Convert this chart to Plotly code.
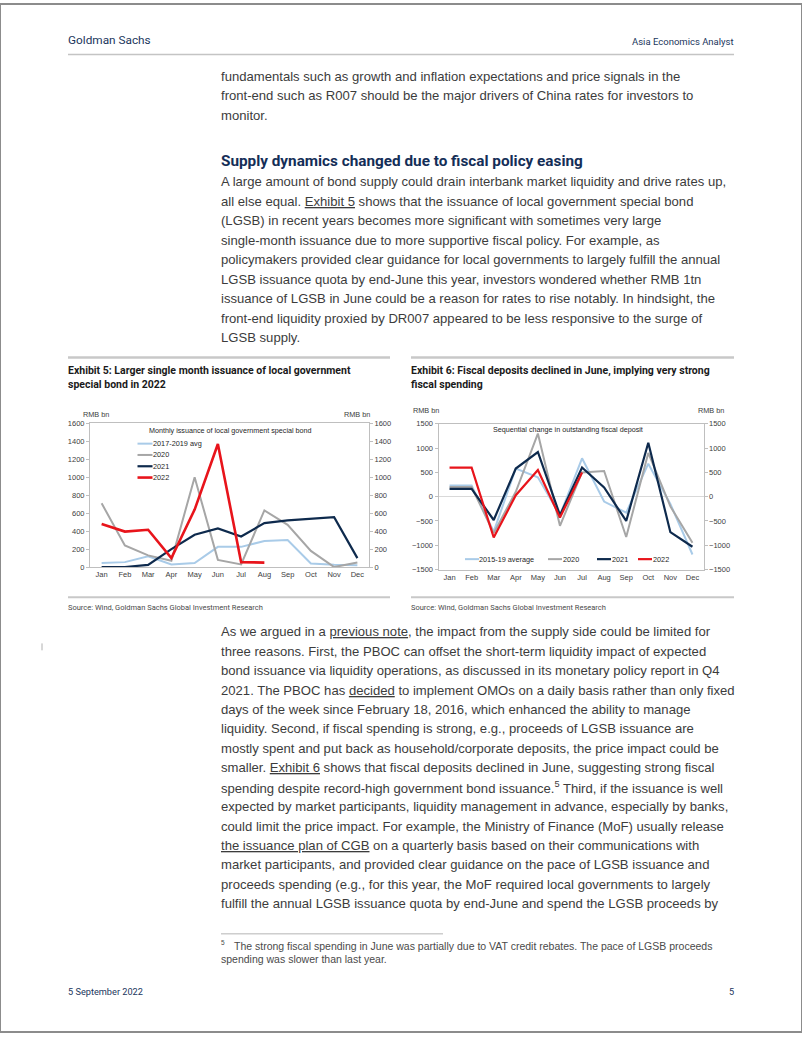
import plotly.graph_objects as go

W, H = 802, 1037

# ---------------- data ----------------
months = ["Jan", "Feb", "Mar", "Apr", "May", "Jun", "Jul", "Aug", "Sep", "Oct", "Nov", "Dec"]

ex5_names = ["2017-2019 avg", "2020", "2021", "2022"]
ex5_avg = [45, 55, 120, 30, 45, 225, 225, 290, 300, 40, 25, 20]
ex5_2020 = [710, 240, 130, 70, 1000, 80, 30, 630, 470, 180, 0, 50]
ex5_2021 = [0, 0, 25, 200, 360, 430, 340, 490, 520, 535, 555, 100]
ex5_2022 = [480, 395, 415, 100, 640, 1370, 55, 50]

ex6_names = ["2015-19 average", "2020", "2021", "2022"]
ex6_avg = [230, 230, -720, 580, 400, -380, 790, -100, -330, 680, -150, -1190]
ex6_2020 = [200, 200, -750, 100, 1300, -600, 500, 530, -830, 900, -200, -950]
ex6_2021 = [160, 160, -480, 580, 920, -380, 600, 190, -500, 1110, -730, -1030]
ex6_2022 = [600, 600, -840, 30, 550, -430, 500]

ex5_ticks = [0, 200, 400, 600, 800, 1000, 1200, 1400, 1600]
ex6_ticks = [-1500, -1000, -500, 0, 500, 1000, 1500]

colors = ["#a9cbe8", "#a6a6a6", "#0e2a4d", "#e8141b"]
widths5 = [2, 2, 2.2, 2.6]
widths6 = [2, 2, 2.2, 2.2]

# ---------------- text ----------------
top_lines = [
    "fundamentals such as growth and inflation expectations and price signals in the",
    "front-end such as R007 should be the major drivers of China rates for investors to",
    "monitor.",
]
heading = "Supply dynamics changed due to fiscal policy easing"
para1 = [
    "A large amount of bond supply could drain interbank market liquidity and drive rates up,",
    "all else equal. <u>Exhibit 5</u> shows that the issuance of local government special bond",
    "(LGSB) in recent years becomes more significant with sometimes very large",
    "single-month issuance due to more supportive fiscal policy. For example, as",
    "policymakers provided clear guidance for local governments to largely fulfill the annual",
    "LGSB issuance quota by end-June this year, investors wondered whether RMB 1tn",
    "issuance of LGSB in June could be a reason for rates to rise notably. In hindsight, the",
    "front-end liquidity proxied by DR007 appeared to be less responsive to the surge of",
    "LGSB supply.",
]
ex5_title = ["Exhibit 5: Larger single month issuance of local government", "special bond in 2022"]
ex6_title = ["Exhibit 6: Fiscal deposits declined in June, implying very strong", "fiscal spending"]
ex5_chart_title = "Monthly issuance of local government special bond"
ex6_chart_title = "Sequential change in outstanding fiscal deposit"
source = "Source: Wind, Goldman Sachs Global Investment Research"
para2 = [
    "As we argued in a <u>previous note</u>, the impact from the supply side could be limited for",
    "three reasons. First, the PBOC can offset the short-term liquidity impact of expected",
    "bond issuance via liquidity operations, as discussed in its monetary policy report in Q4",
    "2021. The PBOC has <u>decided</u> to implement OMOs on a daily basis rather than only fixed",
    "days of the week since February 18, 2016, which enhanced the ability to manage",
    "liquidity. Second, if fiscal spending is strong, e.g., proceeds of LGSB issuance are",
    "mostly spent and put back as household/corporate deposits, the price impact could be",
    "smaller. <u>Exhibit 6</u> shows that fiscal deposits declined in June, suggesting strong fiscal",
    "spending despite record-high government bond issuance.<sup>5</sup> Third, if the issuance is well",
    "expected by market participants, liquidity management in advance, especially by banks,",
    "could limit the price impact. For example, the Ministry of Finance (MoF) usually release",
    "<u>the issuance plan of CGB</u> on a quarterly basis based on their communications with",
    "market participants, and provided clear guidance on the pace of LGSB issuance and",
    "proceeds spending (e.g., for this year, the MoF required local governments to largely",
    "fulfill the annual LGSB issuance quota by end-June and spend the LGSB proceeds by",
]
footnote_mark = "5"
footnote = [
    "The strong fiscal spending in June was partially due to VAT credit rebates. The pace of LGSB proceeds",
    "spending was slower than last year.",
]

# ---------------- helpers ----------------
def X(px):
    return px / W

def Y(py):
    return 1 - py / H

BODY = "Liberation Sans, Arial, sans-serif"
COND = "Roboto, sans-serif"
CHART = "Liberation Sans, Arial, sans-serif"
NAVY = "#1b365d"

annotations = []
shapes = []

def txt(x, y, s, size, color="#3c3c3c", family=BODY, anchor="left"):
    annotations.append(dict(
        x=X(x), y=Y(y), xref="paper", yref="paper", text=s, showarrow=False,
        xanchor=anchor, yanchor="middle", align=anchor,
        font=dict(size=size, color=color, family=family), borderpad=0,
    ))

def hline(x0, x1, y, color, width):
    shapes.append(dict(type="line", xref="paper", yref="paper",
                       x0=X(x0), x1=X(x1), y0=Y(y), y1=Y(y),
                       line=dict(color=color, width=width)))

# ---------------- figure ----------------
fig = go.Figure()

for name, vals, c, w in zip(ex5_names, [ex5_avg, ex5_2020, ex5_2021, ex5_2022], colors, widths5):
    fig.add_trace(go.Scatter(x=months[:len(vals)], y=vals, mode="lines", name=name,
                             line=dict(color=c, width=w), xaxis="x", yaxis="y",
                             showlegend=False, hoverinfo="skip"))
for name, vals, c, w in zip(ex6_names, [ex6_avg, ex6_2020, ex6_2021, ex6_2022], colors, widths6):
    fig.add_trace(go.Scatter(x=months[:len(vals)], y=vals, mode="lines", name=name,
                             line=dict(color=c, width=w), xaxis="x2", yaxis="y2",
                             showlegend=False, hoverinfo="skip"))
# invisible traces to carry the right-hand axes
fig.add_trace(go.Scatter(x=months, y=[None] * 12, xaxis="x", yaxis="y3", showlegend=False, hoverinfo="skip"))
fig.add_trace(go.Scatter(x=months, y=[None] * 12, xaxis="x2", yaxis="y4", showlegend=False, hoverinfo="skip"))

AX = "#bfbfbf"
tickfont = dict(size=7.5, color="#404040", family=CHART)

common_x = dict(type="category", categoryorder="array", categoryarray=months,
                range=[-0.5, 11.5], showline=True, linecolor=AX, linewidth=1, mirror=True,
                showgrid=False, zeroline=False, ticks="", tickfont=tickfont, fixedrange=True)

fig.update_layout(
    width=W, height=H, margin=dict(l=0, r=0, t=0, b=0),
    paper_bgcolor="white", plot_bgcolor="white", showlegend=False,
    xaxis=dict(domain=[X(90), X(369)], anchor="y", **common_x),
    yaxis=dict(domain=[Y(568), Y(423)], anchor="x", range=[0, 1600], tickvals=ex5_ticks,
               showline=True, linecolor=AX, linewidth=1, mirror=True, showgrid=False,
               zeroline=False, ticks="outside", ticklen=3, tickcolor=AX, tickfont=tickfont),
    yaxis3=dict(overlaying="y", side="right", anchor="x", range=[0, 1600], tickvals=ex5_ticks,
                showline=False, showgrid=False, zeroline=False, ticks="outside", ticklen=3,
                tickcolor=AX, tickfont=tickfont),
    xaxis2=dict(domain=[X(438.5), X(703.5)], anchor="y2", **common_x),
    yaxis2=dict(domain=[Y(570.5), Y(423.5)], anchor="x2", range=[-1500, 1500], tickvals=ex6_ticks,
                showline=True, linecolor=AX, linewidth=1, mirror=True, showgrid=False,
                zeroline=True, zerolinecolor="#d9d9d9", zerolinewidth=1,
                ticks="outside", ticklen=3, tickcolor=AX, tickfont=tickfont),
    yaxis4=dict(overlaying="y2", side="right", anchor="x2", range=[-1500, 1500], tickvals=ex6_ticks,
                showline=False, showgrid=False, zeroline=False, ticks="outside", ticklen=3,
                tickcolor=AX, tickfont=tickfont),
)

# ---------------- page furniture ----------------
shapes.append(dict(type="rect", xref="paper", yref="paper", x0=0, x1=1, y0=0, y1=1,
                   line=dict(color="#8c8c8c", width=2)))
txt(67, 36, "Goldman Sachs", 11.8, NAVY, COND)
txt(735, 38, "Asia Economics Analyst", 9.5, NAVY, COND, anchor="right")
hline(68, 734, 51, "#c4c4c4", 1.5)

for i, s in enumerate(top_lines):
    txt(220, 72.7 + 19.8 * i, s, 13.1)

txt(220, 158, "<b>" + heading + "</b>", 15.3, "#142e57", COND)
for i, s in enumerate(para1):
    txt(220, 179.3 + 19.7 * i, s, 13.1)

# exhibit headers
hline(68, 390, 356.5, "#c8c8c8", 2.5)
hline(411, 734, 356.5, "#c8c8c8", 2.5)
for i, s in enumerate(ex5_title):
    txt(67, 370 + 13.5 * i, "<b>" + s + "</b>", 10.5, "#1a1a1a", COND)
for i, s in enumerate(ex6_title):
    txt(410, 370 + 13.5 * i, "<b>" + s + "</b>", 10.5, "#1a1a1a", COND)

# chart 1 texts
txt(82, 414.5, "RMB bn", 7.3, "#404040", CHART)
txt(343, 414.5, "RMB bn", 7.3, "#404040", CHART)
txt(230, 430.5, ex5_chart_title, 7.2, "#262626", CHART, anchor="center")
for i, (name, c, w) in enumerate(zip(ex5_names, colors, widths5)):
    yy = 443.5 + 11.4 * i
    hline(137.5, 152.5, yy, c, w)
    txt(152, yy, name, 7.3, "#262626", CHART)

# chart 2 texts
txt(412, 410.5, "RMB bn", 7.3, "#404040", CHART)
txt(697, 410.5, "RMB bn", 7.3, "#404040", CHART)
txt(568, 429.5, ex6_chart_title, 7.2, "#262626", CHART, anchor="center")
leg6_x = [465, 548, 597, 638]
for name, c, w, lx in zip(ex6_names, colors, widths6, leg6_x):
    hline(lx, lx + 14, 560, c, w)
    txt(lx + 13.5, 560, name, 7.3, "#262626", CHART)

# sources
hline(68, 390, 598.5, "#c8c8c8", 2)
hline(411, 734, 598.5, "#c8c8c8", 2)
txt(67, 609, source, 7.5, "#4a4a4a", COND)
txt(410, 609, source, 7.5, "#4a4a4a", COND)

# side mark
shapes.append(dict(type="line", xref="paper", yref="paper", x0=X(42), x1=X(42), y0=Y(645), y1=Y(652),
                   line=dict(color="#b0b0b0", width=1)))

for i, s in enumerate(para2):
    txt(220, 633.3 + 19.6 * i, s, 13.1)

# footnote
hline(221, 443, 938, "#b5b5b5", 1)
txt(220, 947, footnote_mark, 6.5, "#4a4a4a", BODY)
txt(233, 950, footnote[0], 10.5, "#4a4a4a", BODY)
txt(220, 963, footnote[1], 10.5, "#4a4a4a", BODY)

txt(67, 996, "5 September 2022", 9.2, NAVY, COND)
txt(735, 996, "5", 9.2, NAVY, COND, anchor="right")

fig.update_layout(annotations=annotations, shapes=shapes)
fig.write_html(
    "out.html",
    config={"displayModeBar": False, "staticPlot": True},
    post_script=(
        "document.documentElement.style.margin='0';document.body.style.margin='0';"
        "document.body.style.padding='0';"
        "var d=document.getElementById('{plot_id}');d.style.position='absolute';"
        "d.style.left='0px';d.style.top='0px';"
    ),
)
